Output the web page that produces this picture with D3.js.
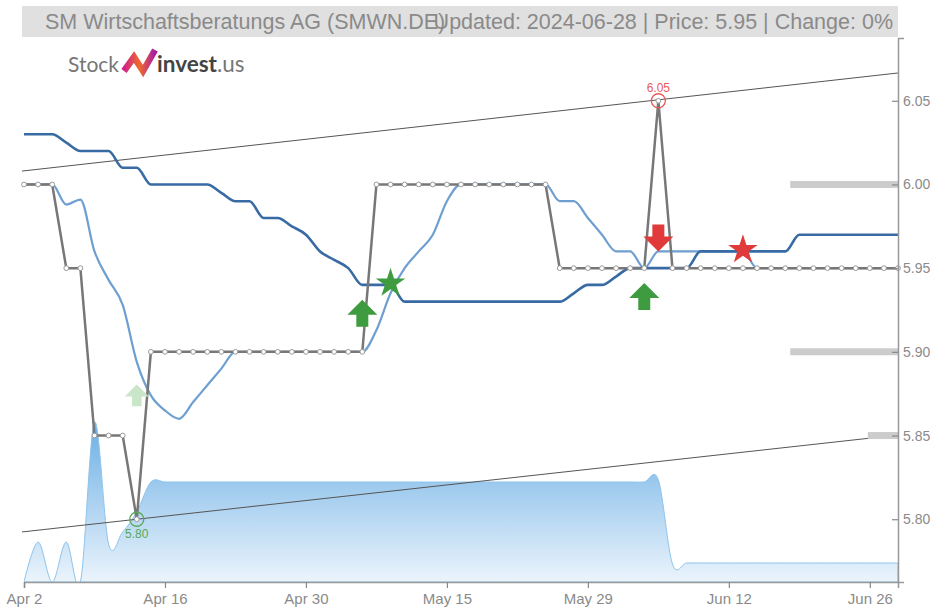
<!DOCTYPE html>
<html><head><meta charset="utf-8">
<script src="https://cdn.jsdelivr.net/npm/d3@7"></script>
<style>body{margin:0;background:#fff;}svg{display:block;font-family:"Liberation Sans",Arial,sans-serif;}</style>
</head><body>
<svg id="chart" width="930" height="610"></svg>
<script>
// ---------- DATA ----------
const dates = [
 "2024-04-02","2024-04-03","2024-04-04","2024-04-05","2024-04-08","2024-04-09","2024-04-10","2024-04-11","2024-04-12",
 "2024-04-15","2024-04-16","2024-04-17","2024-04-18","2024-04-19","2024-04-22","2024-04-23","2024-04-24","2024-04-25",
 "2024-04-26","2024-04-29","2024-04-30","2024-05-02","2024-05-03","2024-05-06","2024-05-07","2024-05-08","2024-05-09",
 "2024-05-10","2024-05-13","2024-05-14","2024-05-15","2024-05-16","2024-05-17","2024-05-20","2024-05-21","2024-05-22",
 "2024-05-23","2024-05-24","2024-05-27","2024-05-28","2024-05-29","2024-05-30","2024-05-31","2024-06-03","2024-06-04",
 "2024-06-05","2024-06-06","2024-06-07","2024-06-10","2024-06-11","2024-06-12","2024-06-13","2024-06-14","2024-06-17",
 "2024-06-18","2024-06-19","2024-06-20","2024-06-21","2024-06-24","2024-06-25","2024-06-26","2024-06-27","2024-06-28"];

const price = [6.00,6.00,6.00,5.95,5.95,5.85,5.85,5.85,5.80,
 5.90,5.90,5.90,5.90,5.90,5.90,5.90,5.90,5.90,5.90,5.90,5.90,5.90,5.90,5.90,5.90,
 6.00,6.00,6.00,6.00,6.00,6.00,6.00,6.00,6.00,6.00,6.00,6.00,6.00,
 5.95,5.95,5.95,5.95,5.95,5.95,5.95,6.05,
 5.95,5.95,5.95,5.95,5.95,5.95,5.95,5.95,5.95,5.95,5.95,5.95,5.95,5.95,5.95,5.95,5.95];

const maLong = [6.03,6.03,6.03,6.025,6.02,6.02,6.02,6.01,6.01,6.00,6.00,6.00,6.00,6.00,5.995,5.99,5.99,5.98,5.98,5.975,5.97,5.96,5.955,5.95,5.94,5.94,5.94,5.93,
 5.93,5.93,5.93,5.93,5.93,5.93,5.93,5.93,5.93,5.93,5.93,
 5.935,5.94,5.94,5.945,5.95,5.95,5.95,5.95,5.95,
 5.96,5.96,5.96,5.96,5.96,5.96,5.96,
 5.97,5.97,5.97,5.97,5.97,5.97,5.97,5.97];

const maShort = [6.00,6.00,6.00,5.988,5.991,5.96,5.943,5.928,5.894,5.874,5.865,5.86,5.87,5.88,5.89,
 5.90,5.90,5.90,5.90,5.90,5.90,5.90,5.90,5.90,5.90,
 5.913,5.935,5.95,5.96,5.97,5.99,
 6.00,6.00,6.00,6.00,6.00,6.00,6.00,
 5.99,5.99,5.98,5.97,5.96,5.96,5.95,
 5.96,5.96,5.96,5.96,5.96,5.96,5.96,
 5.95,5.95,5.95,5.95,5.95,5.95,5.95,5.95,5.95,5.95,5.95];

// one value per trading day (63)
const volume = [
 0,400,0,400,0,1600,380,500,700,1000,                         // Apr 2 - Apr 15
 1000,1000,1000,1000,1000,1000,1000,1000,1000,1000,           // Apr 16 - Apr 29
 1000,1000,1000,1000,1000,1000,1000,1000,1000,1000,           // Apr 30 - May 14
 1000,1000,1000,1000,1000,1000,1000,1000,1000,1000,           // May 15 - May 28
 1000,1000,1000,1000,1000,1020,180,190,190,190,               // May 29 - Jun 11
 190,190,190,190,190,190,190,190,190,190,                     // Jun 12 - Jun 25
 190,190,190];                                                // Jun 26 - Jun 28

const trendUpper = [6.008, 6.0666];   // at first and last date
const trendLower = [5.7924, 5.8503];

const levels = [6.00, 5.90, 5.85];
const levelStart = ["2024-06-18", "2024-06-18", "2024-06-26"];

const yTicks = [5.80, 5.85, 5.90, 5.95, 6.00, 6.05];
const xTickDates = ["2024-04-02","2024-04-16","2024-04-30","2024-05-15","2024-05-29","2024-06-12","2024-06-26"];
const xTickLabels = ["Apr 2","Apr 16","Apr 30","May 15","May 29","Jun 12","Jun 26"];

const signalDates = ["2024-04-12","2024-05-07","2024-06-04","2024-06-05"];
const signalValues = [5.874, 5.923, 5.933, 5.968];
const signalKinds = ["upFaded","up","up","down"];
const starDates = ["2024-05-09","2024-06-13"];
const starValues = [5.941, 5.961];
const starKinds = ["buy","sell"];

const extremeDates = ["2024-06-05","2024-04-12"];
const extremeValues = [6.05, 5.80];
const extremeKinds = ["high","low"];

const titleLeft = "SM Wirtschaftsberatungs AG (SMWN.DE)";
const titleRight = "Updated: 2024-06-28 | Price: 5.95 | Change: 0%";

// ---------- CHART ----------
const svg = d3.select("#chart");
const pLeft = 24, pRight = 898, pTop = 38, pBottom = 582;

const x = d3.scalePoint().domain(dates).range([pLeft, pRight]);
const y = d3.scaleLinear().domain([5.7625, 6.0875]).range([pBottom, pTop]);
const yv = d3.scaleLinear().domain([0, 1000]).range([pBottom, 482]);

const defs = svg.append("defs");
const grad = defs.append("linearGradient").attr("id","volGrad")
  .attr("gradientUnits","userSpaceOnUse").attr("x1",0).attr("x2",0).attr("y1",400).attr("y2",pBottom);
grad.append("stop").attr("offset","0%").attr("stop-color","#5aa5e1");
grad.append("stop").attr("offset","100%").attr("stop-color","#ebf4fc");
defs.append("clipPath").attr("id","plotClip").append("rect")
  .attr("x",pLeft).attr("y",pTop).attr("width",pRight-pLeft).attr("height",pBottom-pTop+1);
const lg = defs.append("linearGradient").attr("id","logoGrad").attr("x1","0%").attr("x2","100%");
lg.append("stop").attr("offset","0%").attr("stop-color","#d0208a");
lg.append("stop").attr("offset","50%").attr("stop-color","#f06a2a");
lg.append("stop").attr("offset","100%").attr("stop-color","#a81ca8");

// Title bar
svg.append("rect").attr("x",22).attr("y",6).attr("width",876).attr("height",31).attr("fill","#e0e0e0");
svg.append("text").attr("x",45).attr("y",29).attr("font-size",21.5).attr("fill","#8a8a8a").text(titleLeft);
svg.append("text").attr("x",893).attr("y",29).attr("text-anchor","end").attr("font-size",21.5).attr("fill","#8a8a8a").text(titleRight);

// Logo
const logo = svg.append("g");
logo.append("text").attr("x",68).attr("y",72).attr("font-family","Lato, 'Open Sans', sans-serif")
  .attr("font-size",21).attr("fill","#777").text("Stock");
logo.append("path").attr("d","M124,71 L134,57 L143,71 L155,50")
  .attr("fill","none").attr("stroke","url(#logoGrad)").attr("stroke-width",6.5).attr("stroke-linejoin","miter");
const lt = logo.append("text").attr("x",157).attr("y",72).attr("font-family","Lato, 'Open Sans', sans-serif").attr("font-size",22.5);
lt.append("tspan").attr("font-weight","bold").attr("fill","#444").text("invest");
lt.append("tspan").attr("fill","#777").text(".us");

const plot = svg.append("g").attr("clip-path","url(#plotClip)");

// Volume area
const vdata = dates.map((d,i)=>({d, v: volume[i]}));
plot.append("path").datum(vdata)
  .attr("d", d3.area().x(p=>x(p.d)).y0(pBottom).y1(p=>yv(p.v)).curve(d3.curveCatmullRom.alpha(0)))
  .attr("fill","url(#volGrad)").attr("stroke","#8ec3ec").attr("stroke-width",1);

// Trend lines
[trendUpper, trendLower].forEach(t=>{
  svg.append("line").attr("x1",x(dates[0])-2).attr("x2",x(dates[dates.length-1]))
    .attr("y1",y(t[0])).attr("y2",y(t[1])).attr("stroke","#555").attr("stroke-width",1);
});

// Support / resistance bars
const levelPad = [5, 5, -2];
levels.forEach((lv,i)=>{
  svg.append("line").attr("x1",x(levelStart[i])+levelPad[i]).attr("x2",x(dates[dates.length-1]))
    .attr("y1",y(lv)).attr("y2",y(lv)).attr("stroke","#cccccc").attr("stroke-width",7);
});

// Moving averages
const lineGen = arr => d3.line().x((v,i)=>x(dates[i])).y(v=>y(v)).curve(d3.curveMonotoneX)(arr);
svg.append("path").attr("d",lineGen(maShort)).attr("fill","none").attr("stroke","#6e9fd0").attr("stroke-width",2.2);
svg.append("path").attr("d",lineGen(maLong)).attr("fill","none").attr("stroke","#386aa3").attr("stroke-width",2.6);

// Price line
svg.append("path").attr("d", d3.line().x((v,i)=>x(dates[i])).y(v=>y(v))(price))
  .attr("fill","none").attr("stroke","#777").attr("stroke-width",2.5);
svg.append("g").selectAll("circle").data(price).join("circle")
  .attr("cx",(v,i)=>x(dates[i])).attr("cy",v=>y(v)).attr("r",2.4)
  .attr("fill","#fff").attr("stroke","#999").attr("stroke-width",1);

// Axes
const yAxis = d3.axisRight(y).tickValues(yTicks).tickFormat(d3.format(".2f")).tickSizeInner(-6).tickSizeOuter(6).tickPadding(5);
const gy = svg.append("g").attr("transform",`translate(${pRight},0)`).call(yAxis);
const xAxis = d3.axisBottom(x).tickValues(xTickDates).tickFormat(d=>xTickLabels[xTickDates.indexOf(d)]).tickSizeInner(6).tickSizeOuter(6).tickPadding(5);
const gx = svg.append("g").attr("transform",`translate(0,${pBottom})`).call(xAxis);
[gx, gy].forEach(g=>{
  g.select(".domain").attr("stroke","#999").attr("stroke-width",1.5);
  g.selectAll(".tick line").attr("stroke","#888").attr("stroke-width",1.2);
  g.selectAll(".tick text").attr("fill","#8a8a8a").attr("font-family","'Liberation Sans', Arial, sans-serif");
});
gx.selectAll(".tick text").attr("font-size",15);
gy.selectAll(".tick text").attr("font-size",14);

// Signal arrows
const arrowUp = "M0,-13.5 L15,1.5 L6,1.5 L6,13.5 L-6,13.5 L-6,1.5 L-15,1.5 Z";
const arrowDown = "M0,13.5 L15,-1.5 L6,-1.5 L6,-13.5 L-6,-13.5 L-6,-1.5 L-15,-1.5 Z";
signalDates.forEach((d,i)=>{
  const k = signalKinds[i];
  svg.append("path").attr("transform",`translate(${x(d)},${y(signalValues[i])})${k==="upFaded"?" scale(0.8)":""}`)
    .attr("d", k==="down" ? arrowDown : arrowUp)
    .attr("fill", k==="down" ? "#e03a3a" : (k==="upFaded" ? "#c9e6c9" : "#3f9b3f"));
});
// Stars
starDates.forEach((d,i)=>{
  svg.append("path").attr("transform",`translate(${x(d)},${y(starValues[i])})`)
    .attr("d", d3.symbol(d3.symbolStar, 270)())
    .attr("fill", starKinds[i]==="buy" ? "#3f9b3f" : "#e03a3a");
});

// Extreme markers
extremeDates.forEach((d,i)=>{
  const hi = extremeKinds[i]==="high";
  const col = hi ? "#e85a5a" : "#55aa55";
  svg.append("circle").attr("cx",x(d)).attr("cy",y(extremeValues[i])).attr("r",7)
    .attr("fill","none").attr("stroke",col).attr("stroke-width",1.3);
  svg.append("text").attr("x",x(d)).attr("y", y(extremeValues[i]) + (hi ? -9 : 19))
    .attr("text-anchor","middle").attr("font-size",12).attr("fill",col)
    .text(d3.format(".2f")(extremeValues[i]));
});
</script>
</body></html>
